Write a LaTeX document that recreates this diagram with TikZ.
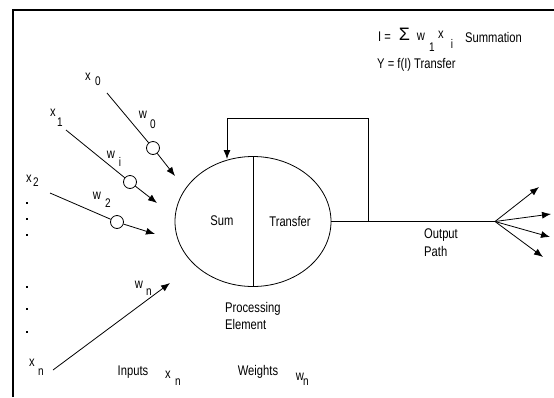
\documentclass[tikz,border=0pt]{standalone}
\usepackage{fontspec}
\setmainfont{Liberation Sans}
\usetikzlibrary{arrows.meta,shapes.geometric}
\newcommand\narrowtxt[1]{\scalebox{0.8}[1]{#1}}
\begin{document}
\begin{tikzpicture}[x=1pt,y=-1pt,
  lbl/.style={inner sep=0pt,font=\fontsize{14}{16}\selectfont},
  sub/.style={inner sep=0pt,font=\fontsize{12.5}{14}\selectfont},
  wire/.style={line width=0.8pt},
  arr/.style={line width=0.8pt,-{Latex[length=9pt,width=7pt]}},
  wcirc/.style={circle,draw,fill=white,line width=0.8pt,minimum size=13pt,inner sep=0pt},
  dotm/.style={fill=black,minimum size=2.8pt,inner sep=0pt,rectangle}]
\useasboundingbox (0,0) rectangle (554,397);
% frame
\draw[line width=2pt] (13,397) -- (13,10) -- (554,10);
% processing element
\node[ellipse,draw,line width=0.8pt,minimum width=156pt,minimum height=130pt,inner sep=0pt] (pe) at (253,221.5) {};
\draw[wire] (pe.north) -- (pe.south);
\node[lbl] (sum) at (222,221) {\narrowtxt{Sum}};
\node[lbl] (tr) at (290,221) {\narrowtxt{Transfer}};
% feedback
\coordinate (fbj) at (368,221.5);
\coordinate (fbc) at (227,118);
\coordinate (fbt) at (227,159);
\draw[arr] (fbj) |- (fbc) -- (fbt);
% output
\coordinate (op) at (495,221.5);
\draw[wire] (pe.east) -- (op);
\coordinate (o1) at (539,187);
\coordinate (o2) at (551,214);
\coordinate (o3) at (550,237);
\coordinate (o4) at (543,257);
\foreach \o in {o1,o2,o3,o4} \draw[arr] (op) -- (\o);
\node[lbl,anchor=west] (outp) at (424,235) {\narrowtxt{Output}};
\node[lbl,anchor=west] (path) at (424,251) {\narrowtxt{Path}};
\node[lbl,anchor=west] (proc) at (225,309) {\narrowtxt{Processing}};
\node[lbl,anchor=west] (elem) at (225,324) {\narrowtxt{Element}};
% input 0
\coordinate (s0) at (107,93);
\node[wcirc] (c0) at (153,148) {};
\coordinate (t0) at (175,176);
\draw[wire] (s0) -- (c0);
\draw[arr] (c0) -- (t0);
\node[lbl] (x0) at (88,77) {\narrowtxt{x}};
\node[sub] (x0s) at (98,81) {\narrowtxt{0}};
\node[lbl] (w0) at (143,115) {\narrowtxt{w}};
\node[sub] (w0s) at (153,124) {\narrowtxt{0}};
% input 1
\coordinate (s1) at (66,130);
\node[wcirc] (c1) at (130,182) {};
\coordinate (t1) at (157,203);
\draw[wire] (s1) -- (c1);
\draw[arr] (c1) -- (t1);
\node[lbl] (x1) at (53,113) {\narrowtxt{x}};
\node[sub] (x1s) at (60,122) {\narrowtxt{1}};
\node[lbl] (wi) at (111,155) {\narrowtxt{w}};
\node[sub] (wis) at (120,162) {\narrowtxt{i}};
% input 2
\coordinate (s2) at (50,193);
\node[wcirc] (c2) at (117,222) {};
\coordinate (t2) at (155,234);
\draw[wire] (s2) -- (c2);
\draw[arr] (c2) -- (t2);
\node[lbl] (x2) at (29,179) {\narrowtxt{x}};
\node[sub] (x2s) at (36,182) {\narrowtxt{2}};
\node[lbl] (w2) at (97,196) {\narrowtxt{w}};
\node[sub] (w2s) at (108,203) {\narrowtxt{2}};
% dots
\foreach \y [count=\k] in {203,219,235,287,309,332} \node[dotm] (d\k) at (27,\y) {};
% input n
\coordinate (sn) at (53,370);
\coordinate (tn) at (170,283);
\draw[arr] (sn) -- (tn);
\node[lbl] (wn) at (139,285) {\narrowtxt{w}};
\node[sub] (wns) at (149,292) {\narrowtxt{n}};
\node[lbl] (xn) at (32,363) {\narrowtxt{x}};
\node[sub] (xns) at (41,372) {\narrowtxt{n}};
% legend bottom
\node[lbl] (inp) at (133,372) {\narrowtxt{Inputs}};
\node[lbl] (lx) at (168,375) {\narrowtxt{x}};
\node[sub] (lxs) at (178,382) {\narrowtxt{n}};
\node[lbl] (wts) at (258,372) {\narrowtxt{Weights}};
\node[lbl] (lw) at (300,377) {\narrowtxt{w}};
\node[sub] (lws) at (306,382) {\narrowtxt{n}};
% formulas
\node[lbl,anchor=west] (fI) at (378,37) {\narrowtxt{I =}};
\node[inner sep=0pt,font=\fontsize{18}{20}\selectfont] (sig) at (404.5,34.5) {Σ};
\node[lbl] (fw) at (421,37) {\narrowtxt{w}};
\node[sub] (fws) at (432,47) {\narrowtxt{1}};
\node[lbl] (fx) at (441,35) {\narrowtxt{x}};
\node[sub] (fxs) at (452,44) {\narrowtxt{i}};
\node[lbl,anchor=west] (summ) at (465,37) {\narrowtxt{Summation}};
\node[lbl,anchor=west] (ftr) at (377,65) {\narrowtxt{Y = f(I) Transfer}};
\end{tikzpicture}
\end{document}
